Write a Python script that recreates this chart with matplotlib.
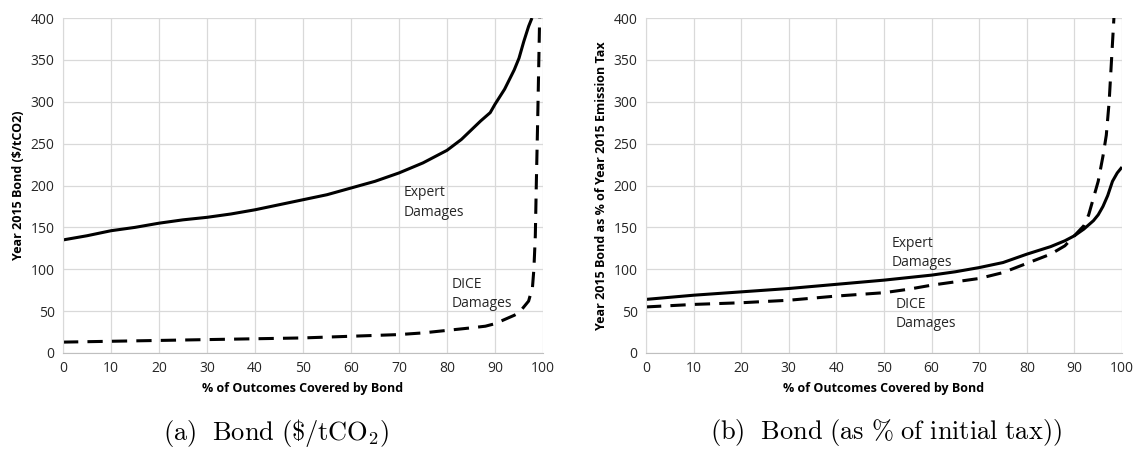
import matplotlib.pyplot as plt

# Dados - painel (a): titulo em $/tCO2
pct_a_expert = [0, 5, 10, 15, 20, 25, 30, 35, 40, 45, 50, 55, 60, 65, 70, 75, 80, 83, 85, 87, 89, 90, 92, 94, 95, 96, 97, 97.7]
bond_a_expert = [135, 140, 146, 150, 155, 159, 162, 166, 171, 177, 183, 189, 197, 205, 215, 227, 242, 255, 266, 277, 287, 297, 315, 338, 352, 372, 390, 400]
pct_a_dice = [0, 10, 20, 30, 40, 50, 60, 70, 75, 80, 85, 88, 90, 92, 94, 95, 96, 97, 97.8, 98.1, 98.4, 98.6, 98.9, 99.1, 99.3]
bond_a_dice = [13, 14, 15, 16, 17, 18, 20, 22, 24, 27, 30, 32, 35, 40, 45, 48, 55, 62, 78, 100, 140, 200, 280, 340, 400]

# Dados - painel (b): % do imposto inicial
pct_b_expert = [0, 10, 20, 30, 40, 50, 60, 65, 70, 75, 80, 85, 88, 90, 92, 94, 95, 96, 97, 98, 99, 100]
bond_b_expert = [64, 69, 73, 77, 82, 87, 93, 97, 102, 108, 118, 127, 134, 140, 148, 158, 165, 175, 188, 205, 215, 222]
pct_b_dice = [0, 10, 20, 30, 40, 50, 55, 60, 65, 70, 75, 80, 85, 88, 90, 92, 93, 94, 95, 96, 96.7, 97.3, 97.8, 98.3]
bond_b_dice = [55, 58, 60, 63, 68, 72, 76, 81, 85, 89, 96, 107, 118, 128, 140, 152, 165, 185, 205, 235, 260, 300, 350, 400]

plt.rcParams['font.family'] = ['Open Sans', 'DejaVu Sans']
plt.rcParams['mathtext.fontset'] = 'cm'

fig = plt.figure(figsize=(11.33, 4.51), dpi=100)
ax1 = fig.add_axes([63 / 1133, 1 - 353 / 451, 480 / 1133, 335 / 451])
ax2 = fig.add_axes([646 / 1133, 1 - 353 / 451, 476 / 1133, 335 / 451])

paineis = [
    (ax1, pct_a_expert, bond_a_expert, pct_a_dice, bond_a_dice, 'Year 2015 Bond ($/tCO2)',
     (71, 200), (81, 91), r'$\mathrm{(a)\ \ Bond\ (\$/tCO_2)}$', 276),
    (ax2, pct_b_expert, bond_b_expert, pct_b_dice, bond_b_dice, 'Year 2015 Bond as % of Year 2015 Emission Tax',
     (51.5, 140), (52.5, 67), r'$\mathrm{(b)\ \ Bond\ (as\ \%\ of\ initial\ tax))}$', 886),
]

for ax, xe, ye, xd, yd, ylab, pos_e, pos_d, legenda, cx in paineis:
    ax.plot(xe, ye, color='black', lw=2.2, solid_capstyle='butt')
    ax.plot(xd, yd, color='black', lw=2.2, linestyle=(0, (5, 3)))
    ax.set_xlim(0, 100)
    ax.set_ylim(0, 400)
    ax.set_xticks(range(0, 101, 10))
    ax.set_yticks(range(0, 401, 50))
    ax.grid(True, color='#d9d9d9', lw=0.9)
    ax.set_axisbelow(True)
    for s in ['top', 'right']:
        ax.spines[s].set_visible(False)
    ax.spines['left'].set_color('#d9d9d9')
    ax.spines['bottom'].set_color('#bfbfbf')
    ax.tick_params(length=0, labelsize=10, colors='#262626', pad=6)
    ax.set_xlabel('% of Outcomes Covered by Bond', fontsize=9, fontweight='bold', labelpad=4)
    ax.set_ylabel(ylab, fontsize=9, fontweight='bold', labelpad=4)
    ax.text(pos_e[0], pos_e[1], 'Expert\nDamages', fontsize=10, color='#262626', va='top', linespacing=1.4)
    ax.text(pos_d[0], pos_d[1], 'DICE\nDamages', fontsize=10, color='#262626', va='top', linespacing=1.4)
    fig.text(cx / 1133, 1 - 433 / 451, legenda, ha='center', va='center', fontsize=19)

fig.savefig('out.png', dpi=100)
